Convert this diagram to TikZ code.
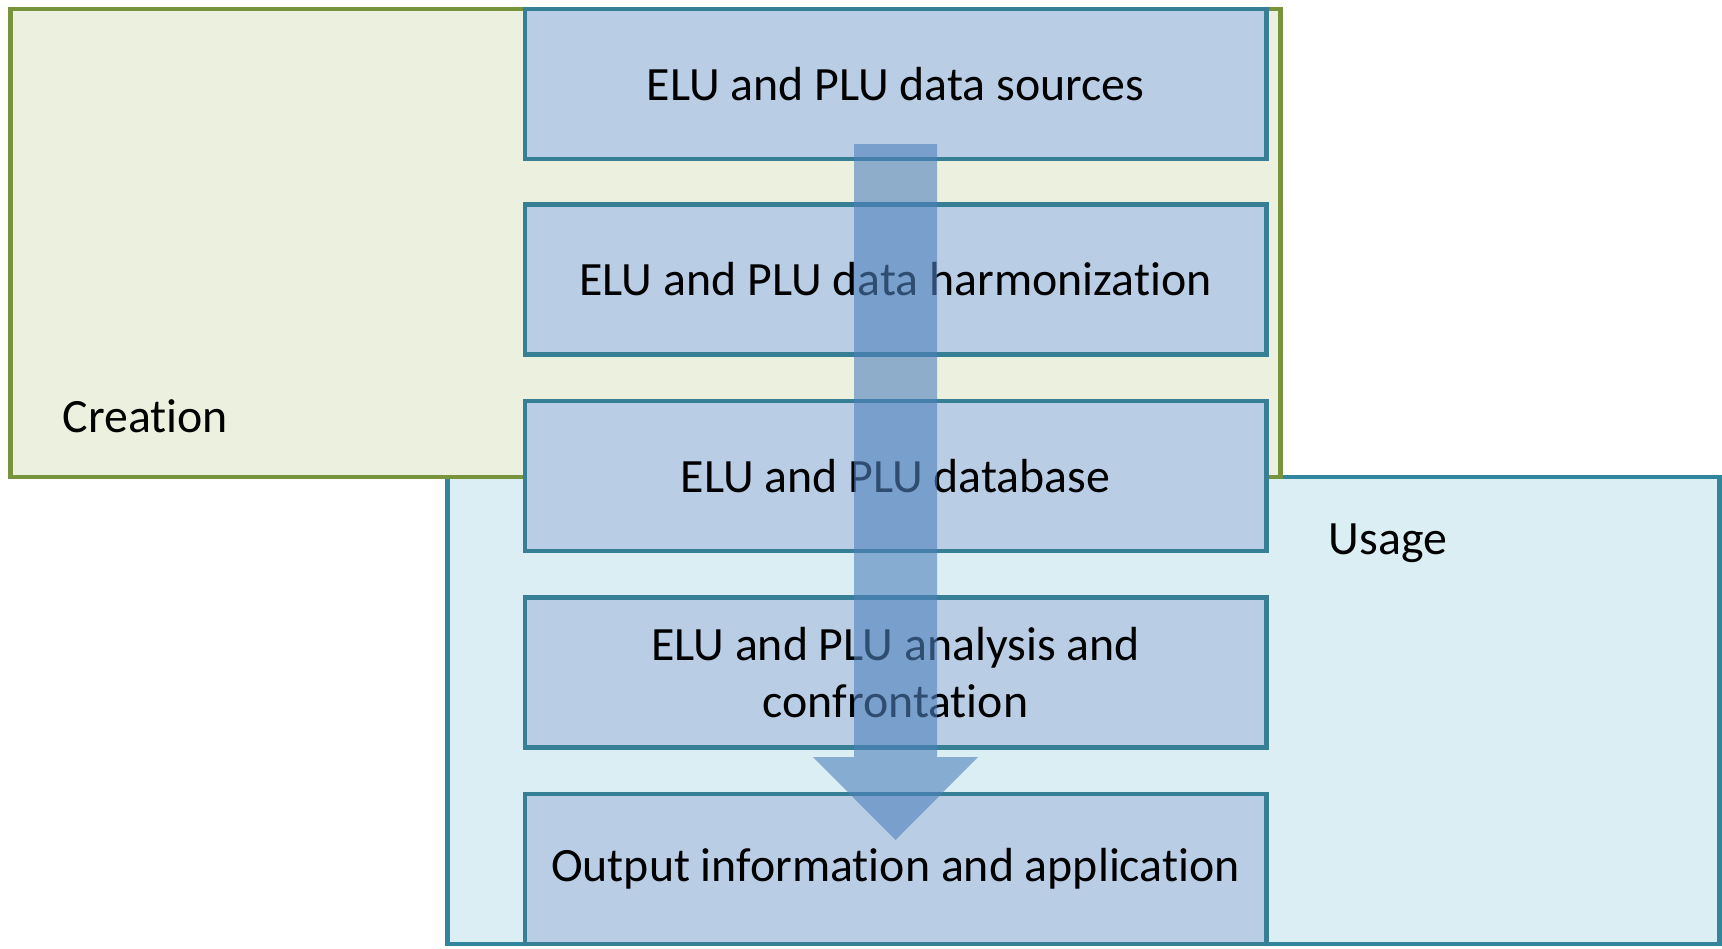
\documentclass[tikz,border=0pt]{standalone}
\usepackage{fontspec}
\setmainfont[Ligatures={NoCommon}]{Carlito}
\usetikzlibrary{calc}
\definecolor{crfill}{RGB}{235,241,222}
\definecolor{crline}{RGB}{119,147,60}
\definecolor{usfill}{RGB}{218,238,243}
\definecolor{usline}{RGB}{49,133,156}
\definecolor{stfill}{RGB}{185,205,229}
\definecolor{stline}{RGB}{55,127,148}
\definecolor{flowblue}{RGB}{79,129,189}
\begin{document}
\begin{tikzpicture}[x=0.01cm, y=-0.01cm,
  font=\fontsize{13.6}{16.4}\selectfont,
  area/.style={line width=1.3pt, inner sep=0pt},
  stage/.style={draw=stline, fill=stfill, line width=1.3pt, minimum width=7.41cm, minimum height=1.5cm, inner sep=0pt, align=center}]
\useasboundingbox (0,0) rectangle (1722,948);
\node[area, draw=usline, fill=usfill, minimum width=12.71cm, minimum height=4.67cm] (usage) at (1083.5,710.5){};
\node[area, draw=crline, fill=crfill, minimum width=12.69cm, minimum height=4.68cm] (creation) at (645.5,243){};
\node[anchor=base west, inner sep=0pt] (usagelbl) at (1328,554){Usage};
\node[anchor=base west, inner sep=0pt] (creationlbl) at (62,432){Creation};
\node[stage] (src) at (895.5,84){ELU and PLU data sources};
\node[stage] (harm) at (895.5,279.5){ELU and PLU data harmonization};
\node[stage] (db) at (895.5,476){ELU and PLU database};
\node[stage] (ana) at (895.5,672.5){ELU and PLU analysis and\\confrontation};
\node[stage] (out) at (895.5,869){Output information and application};
\coordinate (atop) at (895.5,144);
\coordinate (atip) at (895.5,840);
\fill[flowblue, fill opacity=0.6] ($(atop)+(-41.5,0)$) -- ($(atop)+(41.5,0)$) -- ($(atip)+(41.5,-83)$) -- ($(atip)+(82.5,-83)$) -- (atip) -- ($(atip)+(-82.5,-83)$) -- ($(atip)+(-41.5,-83)$) -- cycle;
\end{tikzpicture}
\end{document}
